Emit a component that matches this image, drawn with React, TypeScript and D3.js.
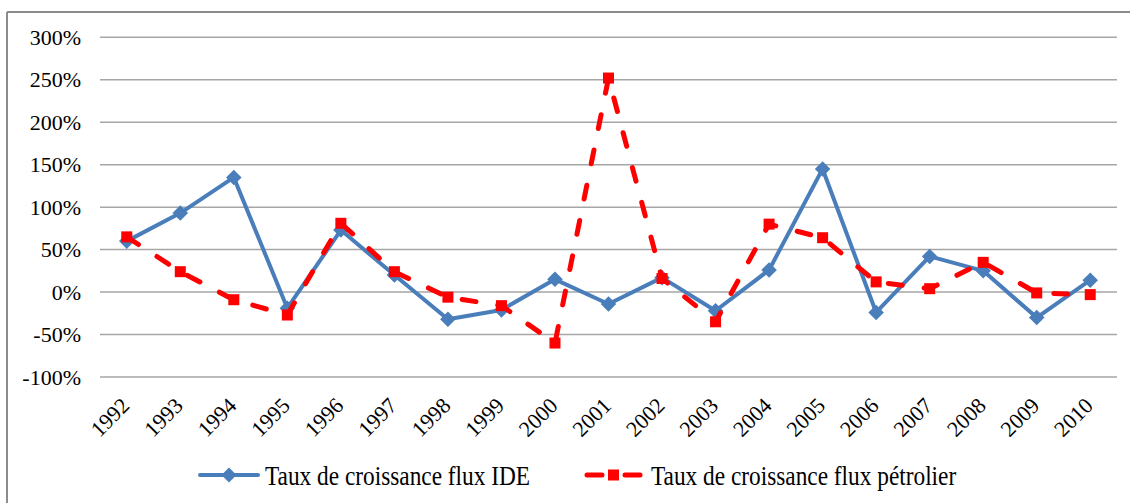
import React from "react";
import * as d3 from "d3";

const years = ["1992","1993","1994","1995","1996","1997","1998","1999","2000","2001","2002","2003","2004","2005","2006","2007","2008","2009","2010"];
const ide = [60, 93, 135, -19, 73, 20, -32, -21, 15, -14, 17, -22, 26, 145, -24, 42, 25, -30, 14];
const petrole = [65, 24, -9, -27, 81, 24, -6, -16, -60, 252, 16, -35, 80, 64, 12, 4, 35, -1, -3];
const yTicks = [-100, -50, 0, 50, 100, 150, 200, 250, 300];
const seriesNames = ["Taux de croissance flux IDE", "Taux de croissance flux pétrolier"];

const W = 1130, H = 503;
const BLUE = "#4A7EBB";
const RED = "#FF0000";
const FONT = '"Liberation Serif", Tinos, "Times New Roman", "DejaVu Serif", serif';

export default function App() {
  const xb = d3.scaleBand<string>().domain(years).range([100, 1117]);
  const x = (d: string) => (xb(d) as number) + xb.bandwidth() / 2;
  const y = d3.scaleLinear().domain([-100, 300]).range([377, 37.3]);
  const line = d3.line<number>().x((_, i) => x(years[i])).y((v) => y(v));
  const textStyle = { fontFamily: FONT };

  return (
    <svg width={W} height={H} style={{ position: "absolute", left: 0, top: 0, background: "#fff" }}>
      <line x1={7} y1={12} x2={W} y2={12} stroke="#8c8c8c" strokeWidth={2} />
      <line x1={7} y1={12} x2={7} y2={H} stroke="#8c8c8c" strokeWidth={2} />
      {yTicks.map((t) => (
        <g key={t}>
          <line x1={100} x2={1117} y1={y(t)} y2={y(t)} stroke="#a6a6a6" strokeWidth={1.5} />
          <text x={81} y={y(t) + 7.5} textAnchor="end" style={textStyle} fontSize={22} fill="#000">
            {t}%
          </text>
        </g>
      ))}
      {years.map((yr) => (
        <text
          key={yr}
          transform={`translate(${x(yr) + 4},${407}) rotate(-45)`}
          textAnchor="end"
          style={textStyle}
          fontSize={22}
          fill="#000"
        >
          {yr}
        </text>
      ))}
      <path d={line(ide) || ""} fill="none" stroke={BLUE} strokeWidth={4} strokeLinejoin="round" />
      {ide.map((v, i) => (
        <rect
          key={i}
          x={-5.5}
          y={-5.5}
          width={11}
          height={11}
          fill={BLUE}
          transform={`translate(${x(years[i])},${y(v)}) rotate(45)`}
        />
      ))}
      <path
        d={line(petrole) || ""}
        fill="none"
        stroke={RED}
        strokeWidth={5}
        strokeDasharray="14 22"
        strokeLinecap="round"
        strokeLinejoin="round"
      />
      {petrole.map((v, i) => (
        <rect key={i} x={x(years[i]) - 5.5} y={y(v) - 5.5} width={11} height={11} fill={RED} />
      ))}
      <g>
        <line x1={200} x2={258} y1={475} y2={475} stroke={BLUE} strokeWidth={4} strokeLinecap="round" />
        <rect x={-5.3} y={-5.3} width={10.6} height={10.6} fill={BLUE} transform="translate(229,475) rotate(45)" />
        <text transform="translate(265,485) scale(0.88,1)" style={textStyle} fontSize={26.5} fill="#000">
          {seriesNames[0]}
        </text>
        <line x1={587} x2={602} y1={475} y2={475} stroke={RED} strokeWidth={5} strokeLinecap="round" />
        <line x1={625} x2={640} y1={475} y2={475} stroke={RED} strokeWidth={5} strokeLinecap="round" />
        <rect x={608} y={469.5} width={11} height={11} fill={RED} />
        <text transform="translate(651,485) scale(0.88,1)" style={textStyle} fontSize={26.5} fill="#000">
          {seriesNames[1]}
        </text>
      </g>
    </svg>
  );
}
